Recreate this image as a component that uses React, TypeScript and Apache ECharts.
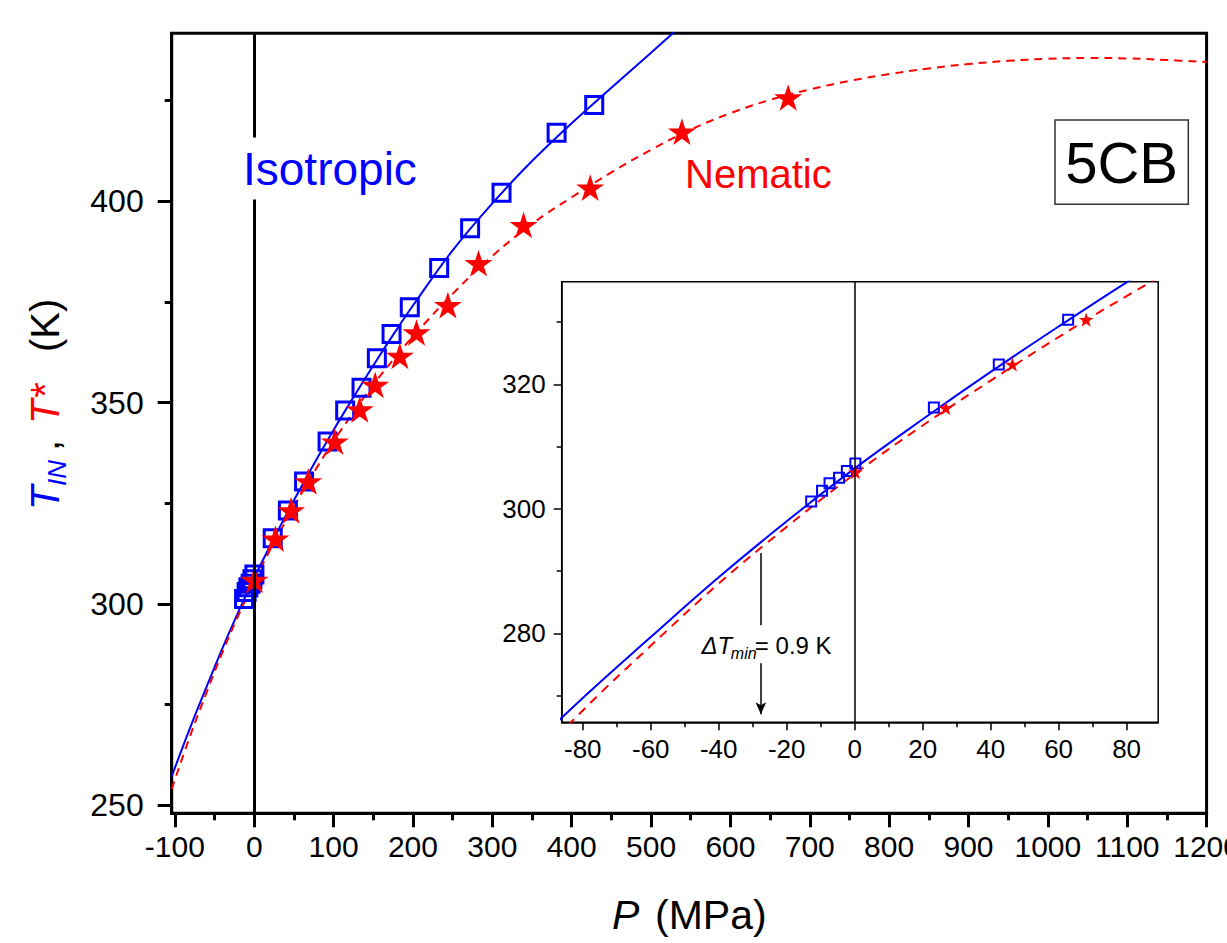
import React, { useEffect, useRef } from 'react';
import * as echarts from 'echarts';

// ---- fitted curves (P in MPa, T in K) ----
const blueCurveP = [-104, -80, -60, -40, -20, 0, 20, 40, 60, 80, 100, 125, 150, 175, 200, 250, 300, 350, 400, 450, 500, 530];
const blueCurveT = [257.1, 269.6, 279.4, 289.0, 298.0, 306.5, 314.4, 322.0, 329.3, 336.4, 343.2, 351.3, 359.2, 366.8, 374.1, 387.8, 399.5, 410.0, 419.4, 428.2, 436.9, 442.2];
const redCurveP = [-104, -80, -60, -40, -20, 0, 20, 40, 60, 80, 100, 125, 150, 175, 200, 250, 300, 350, 400, 450, 500, 550, 600, 650, 700, 750, 800, 850, 900, 950, 1000, 1050, 1100, 1150, 1200];
const redCurveT = [254.0, 267.6, 278.0, 288.0, 297.1, 305.6, 313.4, 320.6, 327.6, 334.2, 340.4, 347.6, 354.4, 360.6, 366.4, 377.0, 386.4, 394.4, 401.0, 407.2, 412.8, 417.8, 421.9, 425.2, 427.8, 429.9, 431.6, 433.0, 434.1, 434.9, 435.4, 435.6, 435.5, 435.1, 434.6];

// ---- measured points ----
const isoP = [-12.8, -9.6, -7.4, -4.6, -2.3, 0.2, 23.3, 42.4, 62.8, 92.4, 114.6, 135.2, 154.5, 173, 196, 233, 272, 311.6, 381, 428.4];
const isoT = [301.2, 302.9, 304.1, 305.0, 306.1, 307.3, 316.3, 323.2, 330.4, 340.3, 348.0, 353.7, 361.0, 367.0, 373.7, 383.4, 393.3, 402.1, 417.0, 423.9];
const nemP = [0.2, 26.8, 46.4, 68.1, 101.6, 133, 152.4, 183.5, 204.5, 244, 282.6, 339.4, 423.3, 538.9, 672.8];
const nemT = [305.9, 316.2, 323.2, 330.4, 340.3, 348.3, 354.4, 361.6, 367.4, 374.2, 384.6, 394.1, 403.4, 417.3, 425.8];

// ---- axes ----
const mainXRange = [-104, 1200];
const mainYRange = [247.94, 441.74];
const mainXMajor = [-100, 0, 100, 200, 300, 400, 500, 600, 700, 800, 900, 1000, 1100, 1200];
const mainXMinor = [-50, 50, 150, 250, 350, 450, 550, 650, 750, 850, 950, 1050, 1150];
const mainYMajor = [250, 300, 350, 400];
const mainYMinor = [275, 325, 375, 425];
const insetXRange = [-86.2, 89.3];
const insetYRange = [265.7, 336.5];
const insetXMajor = [-80, -60, -40, -20, 0, 20, 40, 60, 80];
const insetXMinor = [-70, -50, -30, -10, 10, 30, 50, 70];
const insetYMajor = [280, 300, 320];
const insetYMinor = [270, 290, 310, 330];

// annotation (ΔTmin) position in inset data coordinates
const annP = -27.6;
const annArrowTop = [292.9, 281.3];
const annArrowBottom = [275.2, 267.0];
const annTextT = 278.1;

const FONT = '"Liberation Sans", Arial, Helvetica, sans-serif';
const BLUE = '#0000ff';
const RED = '#ff0000';
const STAR = 'path://M50,2 L61.2,36.5 L97.6,36.5 L68.2,57.9 L79.4,92.5 L50,71.1 L20.6,92.5 L31.8,57.9 L2.4,36.5 L38.8,36.5 Z';

const zip = (a: number[], b: number[]) => a.map((v, i) => [v, b[i]]);

const MAIN = { left: 171.7, right: 20.4, top: 33.3, bottom: 129.7 };
const MAIN_W = 1227 - MAIN.left - MAIN.right;
const MAIN_H = 943 - MAIN.top - MAIN.bottom;
const INSET = { left: 561.7, top: 281.7, width: 596.5, height: 440.6 };

const plain = (v: number) => String(v);

function majorAxis(gridIndex: number, range: number[], ticks: number[], opts: any) {
  return {
    type: 'value',
    gridIndex,
    min: range[0],
    max: range[1],
    position: opts.position,
    axisLine: { show: true, onZero: false, lineStyle: { color: '#000', width: opts.lw } },
    axisTick: { show: true, inside: false, length: opts.tickLen, customValues: ticks, lineStyle: { color: '#000', width: opts.lw } },
    axisLabel: { show: true, customValues: ticks, margin: opts.margin, fontSize: opts.fontSize, color: '#000', fontFamily: FONT, formatter: plain, hideOverlap: false },
    splitLine: { show: false },
  };
}
function minorAxis(gridIndex: number, range: number[], ticks: number[], opts: any) {
  return {
    type: 'value',
    gridIndex,
    min: range[0],
    max: range[1],
    position: opts.position,
    offset: opts.offset,
    axisLine: { show: false, onZero: false },
    axisTick: { show: true, inside: true, length: opts.tickLen, customValues: ticks, lineStyle: { color: '#000', width: opts.lw } },
    axisLabel: { show: false },
    splitLine: { show: false },
  };
}

const curveSeries = (xi: number, p: number[], t: number[], color: string, width: number, type: any, extra: any = {}) => ({
  type: 'line', xAxisIndex: xi, yAxisIndex: xi, data: zip(p, t),
  showSymbol: false, symbol: 'none', smooth: 0.4, clip: true, silent: true,
  lineStyle: { color, width, type }, z: 2, ...extra,
});

export default function App() {
  const ref = useRef<HTMLDivElement>(null);
  useEffect(() => {
    document.body.style.margin = '0';
    const chart = echarts.init(ref.current!, null, { renderer: 'svg' });
    const option: any = {
      animation: false,
      backgroundColor: '#ffffff',
      grid: [
        { ...MAIN, show: true, borderColor: '#000', borderWidth: 3, backgroundColor: 'transparent', containLabel: false, outerBoundsMode: 'none' },
        { ...INSET, show: true, borderColor: '#000', borderWidth: 1.5, backgroundColor: '#ffffff', containLabel: false, outerBoundsMode: 'none' },
      ],
      xAxis: [
        majorAxis(0, mainXRange, mainXMajor, { position: 'bottom', lw: 3, tickLen: 14, margin: 18, fontSize: 30 }),
        minorAxis(0, mainXRange, mainXMinor, { position: 'top', offset: -MAIN_H, lw: 3, tickLen: 7 }),
        majorAxis(1, insetXRange, insetXMajor, { position: 'bottom', lw: 1.5, tickLen: 8, margin: 14, fontSize: 26 }),
        minorAxis(1, insetXRange, insetXMinor, { position: 'top', offset: -INSET.height, lw: 1.5, tickLen: 5 }),
      ],
      yAxis: [
        majorAxis(0, mainYRange, mainYMajor, { position: 'left', lw: 3, tickLen: 14, margin: 28, fontSize: 32 }),
        minorAxis(0, mainYRange, mainYMinor, { position: 'right', offset: -MAIN_W, lw: 3, tickLen: 7 }),
        majorAxis(1, insetYRange, insetYMajor, { position: 'left', lw: 1.5, tickLen: 8, margin: 16, fontSize: 26 }),
        minorAxis(1, insetYRange, insetYMinor, { position: 'right', offset: -INSET.width, lw: 1.5, tickLen: 5 }),
      ],
      series: [
        curveSeries(0, blueCurveP, blueCurveT, BLUE, 2, 'solid', {
          markLine: {
            silent: true, symbol: ['none', 'none'], animation: false,
            lineStyle: { color: '#000', width: 3, type: 'solid' }, label: { show: false },
            data: [{ xAxis: 0 }],
          },
        }),
        curveSeries(0, redCurveP, redCurveT, RED, 2, [8, 6]),
        {
          type: 'scatter', xAxisIndex: 0, yAxisIndex: 0, data: zip(isoP, isoT), clip: true, silent: true,
          symbol: 'rect', symbolSize: 17,
          itemStyle: { color: 'rgba(0,0,0,0)', borderColor: BLUE, borderWidth: 3, opacity: 1 }, z: 3,
        },
        {
          type: 'scatter', xAxisIndex: 0, yAxisIndex: 0, data: zip(nemP, nemT), clip: true, silent: true,
          symbol: STAR, symbolSize: 28, symbolKeepAspect: true,
          itemStyle: { color: RED, opacity: 1 }, z: 4,
        },
        // inset
        curveSeries(2, blueCurveP, blueCurveT, BLUE, 2, 'solid', {
          markLine: {
            silent: true, symbol: ['none', 'none'], animation: false,
            lineStyle: { color: '#000', width: 1.5, type: 'solid' }, label: { show: false },
            data: [
              { xAxis: 0 },
              [{ coord: [annP, annArrowTop[0]] }, { coord: [annP, annArrowTop[1]] }],
              [{ coord: [annP, annArrowBottom[0]] }, { coord: [annP, annArrowBottom[1]], symbol: 'arrow', symbolSize: [8, 12] }],
            ],
          },
        }),
        curveSeries(2, redCurveP, redCurveT, RED, 2, [9, 7]),
        {
          type: 'scatter', xAxisIndex: 2, yAxisIndex: 2, data: zip(isoP, isoT), clip: true, silent: true,
          symbol: 'rect', symbolSize: 10,
          itemStyle: { color: 'rgba(0,0,0,0)', borderColor: BLUE, borderWidth: 2, opacity: 1 }, z: 3,
        },
        {
          type: 'scatter', xAxisIndex: 2, yAxisIndex: 2, data: zip(nemP, nemT), clip: true, silent: true,
          symbol: STAR, symbolSize: 15, symbolKeepAspect: true,
          itemStyle: { color: RED, opacity: 1 }, z: 4,
        },
      ],
    };
    chart.setOption(option);

    const a = chart.convertToPixel({ xAxisIndex: 2, yAxisIndex: 2 }, [annP, annTextT]) as number[];
    const t = (text: string, x: number, y: number, size: number, fill: string, extra: any = {}) => ({
      type: 'text', x, y, z: 100,
      style: { text, fontSize: size, fontFamily: FONT, fill, textAlign: 'left', textVerticalAlign: 'middle', ...extra },
    });

    chart.setOption({
      graphic: [
        t('Isotropic', 243, 168.5, 46, BLUE, { backgroundColor: '#ffffff', padding: [8, 0] }),
        t('Nematic', 685, 173.5, 40, RED),
        {
          type: 'rect', z: 100, shape: { x: 1055, y: 120, width: 133.3, height: 84.3 },
          style: { fill: '#ffffff', stroke: '#333333', lineWidth: 1.5 },
        },
        t('5CB', 1121.6, 162.5, 58, '#000', { textAlign: 'center' }),
        // y axis title (rotated)
        {
          type: 'group', x: 45, y: 510, rotation: Math.PI / 2, z: 100,
          children: [
            t('T', 0, 0, 40, BLUE, { fontStyle: 'italic' }),
            t('IN', 24, 12, 26, BLUE, { fontStyle: 'italic' }),
            t(',', 59, 0, 40, '#000'),
            t('T*', 86, 0, 40, RED, { fontStyle: 'italic' }),
            t('(K)', 158, 0, 40, '#000'),
          ],
        },
        // x axis title
        t('P', 612, 915, 41, '#000', { fontStyle: 'italic' }),
        t('(MPa)', 655, 915, 41, '#000'),
        // inset annotation
        t('\u0394T', a[0] - 59.4, a[1], 24, '#000', { fontStyle: 'italic' }),
        t('min', a[0] - 30, a[1] + 8, 16, '#000', { fontStyle: 'italic' }),
        t('= 0.9 K', a[0] - 6, a[1], 24, '#000'),
      ],
    });
    return () => chart.dispose();
  }, []);
  return <div ref={ref} style={{ width: 1227, height: 943 }} />;
}
